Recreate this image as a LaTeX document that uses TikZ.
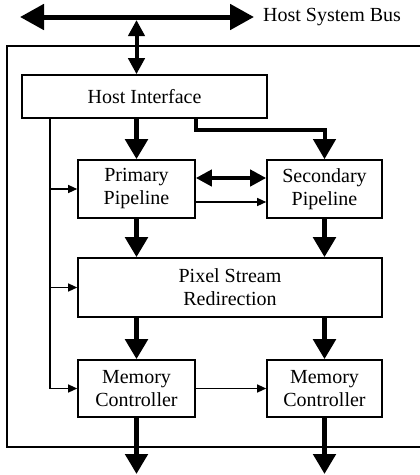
\documentclass[tikz,border=0pt]{standalone}
\usepackage{fontspec}
\setmainfont{Liberation Serif}
\usetikzlibrary{arrows.meta}
\begin{document}
\begin{tikzpicture}[x=1pt,y=-1pt,
  blk/.style={draw,line width=1.6pt,align=center,inner sep=0pt,
    font=\fontsize{20}{23}\selectfont},
  fat/.style={line width=5pt,-{Triangle[length=20pt,width=22pt]}},
  bus/.style={line width=5pt,{Triangle[length=24pt,width=25pt]}-{Triangle[length=24pt,width=25pt]}},
  link/.style={line width=4pt,{Triangle[length=16pt,width=16pt]}-{Triangle[length=16pt,width=16pt]}},
  route/.style={line width=4pt,-{Triangle[length=20pt,width=22pt]}},
  ctl/.style={line width=1.3pt,-{Triangle[length=9pt,width=8pt]}}]
\useasboundingbox (0,0) rectangle (420,475);

% enclosing board outline (open on the right)
\draw[line width=1.6pt] (421,46) -- (7,46) -- (7,447) -- (421,447);

% functional blocks
\node[blk,minimum width=245pt,minimum height=43pt] (hi) at (144.5,96.5) {Host Interface};
\node[blk,minimum width=117pt,minimum height=58pt] (pp) at (136.5,189) {Primary\\Pipeline};
\node[blk,minimum width=115pt,minimum height=58pt] (sp) at (324.5,189) {Secondary\\Pipeline};
\node[blk,minimum width=304pt,minimum height=59pt] (psr) at (230,287.5) {Pixel Stream\\Redirection};
\node[blk,minimum width=117pt,minimum height=57pt] (mc1) at (136.5,388.5) {Memory\\Controller};
\node[blk,minimum width=115pt,minimum height=57pt] (mc2) at (324.5,388.5) {Memory\\Controller};

% system bus
\coordinate (busL) at (20,17);
\coordinate (busR) at (254,17);
\coordinate (busT) at (136.5,20);
\draw[bus] (busL) -- (busR);
\node[anchor=west,inner sep=0pt,font=\fontsize{20}{23}\selectfont] (busname) at (263,17) {Host System Bus};
\draw[link] (busT) -- (hi.north -| pp);

% data paths
\draw[fat] (hi.south -| pp) -- (pp.north);
\coordinate (hitap) at (196,0);
\draw[route,rounded corners=0pt] (hi.south -| hitap) |- (sp.north |- 0,130) -- (sp.north);
\draw[link] ([yshift=11pt]pp.east) -- ([yshift=11pt]sp.west);
\draw[ctl] ([yshift=-13pt]pp.east) -- ([yshift=-13pt]sp.west);
\draw[fat] (pp.south) -- (psr.north -| pp);
\draw[fat] (sp.south) -- (psr.north -| sp);
\draw[fat] (psr.south -| mc1) -- (mc1.north);
\draw[fat] (psr.south -| mc2) -- (mc2.north);
\draw[ctl] (mc1.east) -- (mc2.west);
\coordinate (out1) at (136.5,474);
\coordinate (out2) at (324.5,474);
\draw[fat] (mc1.south) -- (out1);
\draw[fat] (mc2.south) -- (out2);

% control distribution from the host interface
\coordinate (ctlx) at (50,0);
\draw[line width=1.3pt] (hi.south -| ctlx) -- (mc1.west -| ctlx);
\draw[ctl] (pp.west -| ctlx) -- (pp.west);
\draw[ctl] (psr.west -| ctlx) -- (psr.west);
\draw[ctl] (mc1.west -| ctlx) -- (mc1.west);
\end{tikzpicture}
\end{document}
